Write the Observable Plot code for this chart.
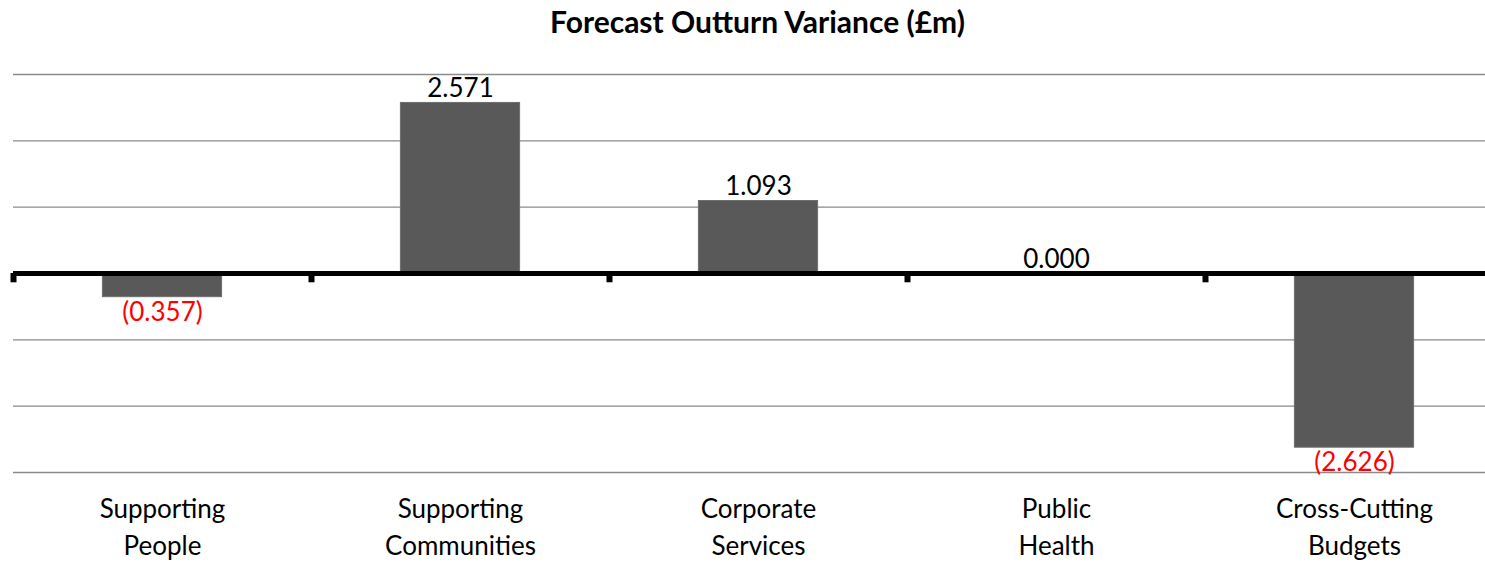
<!DOCTYPE html>
<html>
<head>
<meta charset="utf-8">
<script src="https://cdn.jsdelivr.net/npm/d3@7"></script>
<script src="https://cdn.jsdelivr.net/npm/@observablehq/plot@0.6"></script>
<style>
  html, body { margin: 0; padding: 0; background: #fff; overflow: hidden; }
  #title { height: 50px; line-height: 42px; width: 1485px; box-sizing: border-box; padding-left: 30px;
           text-align: center; font-family: Lato, "Open Sans", sans-serif; font-weight: bold; font-size: 30px; color: #000; }
  #chart svg { display: block; }
</style>
</head>
<body>
<div id="title">Forecast Outturn Variance (£m)</div>
<div id="chart"></div>
<script>
const categories = ["Supporting\nPeople", "Supporting\nCommunities", "Corporate\nServices", "Public\nHealth", "Cross-Cutting\nBudgets"];
const values = [-0.357, 2.571, 1.093, 0.000, -2.626];
const gridTicks = [3, 2, 1, -1, -2, -3];

const data = categories.map((c, i) => ({i, category: c, value: values[i]}));
const fmt = v => v < 0 ? `(${Math.abs(v).toFixed(3)})` : v.toFixed(3);
const font = "Lato, 'Open Sans', sans-serif";

const chart = Plot.plot({
  width: 1485,
  height: 515,
  marginTop: 24,
  marginBottom: 93,
  marginLeft: 13,
  marginRight: 0,
  x: {type: "linear", domain: [0, categories.length], range: [13, 1503], axis: null},
  y: {domain: [-3, 3], axis: null},
  style: {fontFamily: font, background: "#fff"},
  marks: [
    Plot.ruleY(gridTicks, {stroke: "#8a8a8a", strokeWidth: 1.4}),
    Plot.rectY(data.filter(d => d.value !== 0), {
      x1: d => d.i + 0.3, x2: d => d.i + 0.7, y1: 0, y2: "value",
      fill: "#595959", stroke: "#6e6e6e", strokeWidth: 1
    }),
    Plot.ruleY([0], {stroke: "#000", strokeWidth: 5}),
    Plot.ruleX(d3.range(categories.length), {x: d => d, y1: 0, y2: -0.14, stroke: "#000", strokeWidth: 6}),
    Plot.text(data.filter(d => d.value >= 0), {
      x: d => d.i + 0.5, y: "value", text: d => fmt(d.value),
      lineAnchor: "bottom", dy: -6, fontSize: 26, fill: "#000"
    }),
    Plot.text(data.filter(d => d.value < 0), {
      x: d => d.i + 0.5, y: "value", text: d => fmt(d.value),
      lineAnchor: "top", dy: 5, fontSize: 26, fill: "#ff0000"
    }),
    Plot.text(data, {
      x: d => d.i + 0.5, y: -3, text: "category",
      lineAnchor: "top", dy: 19, fontSize: 26, lineHeight: 1.42, fill: "#000"
    })
  ]
});
document.getElementById("chart").appendChild(chart);
</script>
</body>
</html>
